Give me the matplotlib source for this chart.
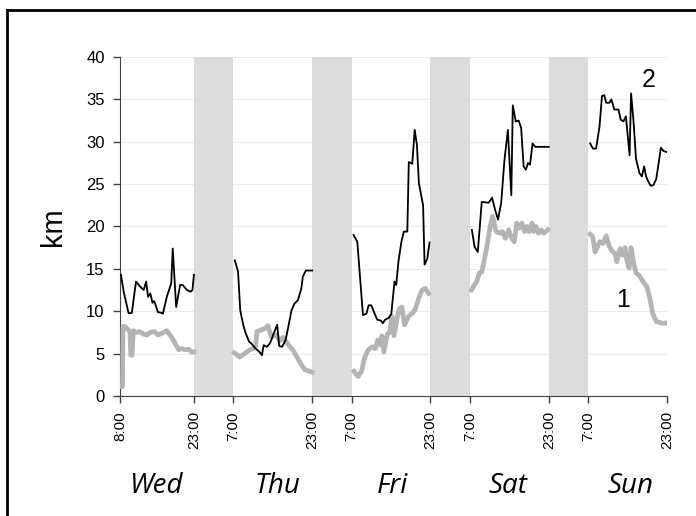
import matplotlib.pyplot as plt
from matplotlib.lines import Line2D
import numpy as np

# hours counted from Wed 0:00; NaN breaks the line at each night
black_t = [8.2, 8.75, 9.75, 10.4, 11.25, 12.1, 12.8, 13.3, 13.7, 14.15, 14.6, 14.95, 15.3, 15.7, 16.5, 16.7,
           17.5, 18.4, 18.7, 19.4, 20.2, 20.7, 21.6, 22.3, 22.7, 23.0, np.nan,
           31.3, 31.95, 32.4, 33.0, 33.5, 34.2, 34.65, 35.5, 36.3, 36.8, 37.15, 37.8, 38.4, 38.7, 39.2, 39.9,
           40.3, 40.9, 41.6, 42.1, 42.8, 43.4, 44.1, 44.8, 45.1, 45.7, 47.0, np.nan,
           55.4, 56.15, 57.3, 58.0, 58.45, 59.0, 59.5, 60.2, 60.9, 61.35, 61.8, 62.5, 63.05, 63.7, 64.05, 64.5,
           65.1, 65.6, 66.3, 66.6, 67.3, 67.8, 68.25, 68.65, 69.5, 69.8, 70.35, 70.8, np.nan,
           79.4, 79.95, 80.6, 81.4, 82.8, 83.5, 84.1, 84.7, 85.35, 86.0, 86.7, 87.4, 87.7, 88.3, 88.9, 89.4,
           89.9, 90.35, 90.8, 91.2, 91.7, 92.25, 95.0, np.nan,
           103.4, 103.95, 104.6, 105.3, 105.8, 106.25, 106.65, 107.3, 107.7, 108.3, 109.15, 109.6, 110.15,
           110.65, 111.4, 111.7, 112.2, 112.7, 113.4, 113.9, 114.35, 114.75, 115.2, 115.7, 116.25, 116.8,
           117.25, 117.75, 118.3, 118.85]
black_km = [14.3, 12.3, 9.75, 9.8, 13.5, 12.9, 12.5, 13.5, 11.7, 12.1, 11.0, 11.2, 10.6, 9.9, 9.8, 9.7,
            11.7, 13.3, 17.4, 10.5, 13.1, 13.1, 12.5, 12.3, 12.5, 14.3, np.nan,
            16.0, 14.7, 10.1, 8.4, 7.4, 6.4, 6.2, 5.6, 5.2, 4.8, 6.0, 5.8, 6.2, 6.6, 7.4, 8.4,
            5.9, 5.8, 6.6, 8.0, 10.1, 10.9, 11.3, 12.7, 14.1, 14.8, 14.8, np.nan,
            19.0, 18.2, 9.55, 9.7, 10.7, 10.7, 9.95, 9.0, 8.9, 8.6, 9.0, 9.2, 9.7, 13.5, 13.1, 15.85,
            18.2, 19.4, 19.4, 27.6, 27.4, 31.4, 29.6, 25.1, 22.5, 15.5, 16.2, 18.1, np.nan,
            19.6, 17.6, 17.0, 22.9, 22.8, 23.4, 22.0, 20.8, 22.8, 27.8, 31.4, 23.7, 34.3, 32.4, 32.5, 31.6,
            27.1, 26.7, 27.5, 27.3, 29.8, 29.4, 29.4, np.nan,
            29.8, 29.2, 29.2, 31.8, 35.4, 35.5, 34.6, 34.6, 35.0, 33.8, 33.8, 32.6, 32.4,
            33.0, 28.4, 35.7, 32.4, 28.0, 26.3, 25.9, 27.1, 25.9, 25.3, 24.8, 24.9, 25.6,
            27.3, 29.3, 28.9, 28.8]

gray_t = [8.15, 8.5, 8.6, 9.0, 9.5, 10.0, 10.2, 10.45, 10.7, 11.3, 12.0, 12.8, 13.5, 14.1, 15.0, 15.7,
          16.5, 17.5, 18.4, 19.2, 19.9, 20.5, 21.2, 22.0, 22.5, 23.0, np.nan,
          31.2, 32.3, 33.3, 34.2, 35.0, 35.5, 35.8, 36.7, 37.55, 38.0, 38.7, 39.7, 40.4, 41.1, 42.1, 43.1,
          44.1, 44.8, 45.5, 46.5, 47.0, np.nan,
          55.5, 56.3, 57.0, 57.6, 58.3, 59.1, 59.8, 60.3, 60.9, 61.15, 61.55, 62.25, 62.7, 63.2, 63.6,
          64.3, 64.7, 65.2, 65.75, 66.55, 67.4, 67.9, 68.6, 69.3, 69.95, 70.6, np.nan,
          79.3, 79.9, 80.4, 80.9, 81.4, 82.45, 83.1, 83.6, 84.3, 85.15, 85.6, 86.2, 86.85, 87.5, 88.0,
          88.5, 89.0, 89.55, 90.1, 90.6, 91.0, 91.6, 91.9, 92.4, 92.9, 93.5, 93.95, 94.8, np.nan,
          103.4, 103.9, 104.4, 104.9, 105.3, 106.0, 106.65, 107.3, 108.0, 108.5, 108.8, 109.5, 110.0,
          110.5, 110.85, 111.3, 111.7, 112.2, 112.7, 113.4, 114.1, 114.9, 115.45, 116.1, 116.8, 117.9,
          118.85]
gray_km = [1.1, 1.1, 8.2, 8.2, 7.9, 7.6, 4.8, 4.8, 7.7, 7.5, 7.6, 7.3, 7.2, 7.5, 7.6, 7.2,
           7.4, 7.7, 7.0, 6.2, 5.45, 5.6, 5.45, 5.5, 5.2, 5.2, np.nan,
           5.1, 4.6, 5.0, 5.4, 5.6, 5.8, 7.6, 7.8, 8.0, 8.3, 7.0, 7.2, 6.5, 6.9, 6.1, 5.4,
           4.4, 3.7, 3.1, 2.9, 2.8, np.nan,
           2.9, 2.3, 2.9, 4.45, 5.4, 5.8, 5.6, 6.6, 6.0, 7.1, 5.2, 7.3, 7.5, 9.4, 7.1,
           9.4, 10.3, 10.5, 8.4, 9.4, 9.8, 10.2, 11.5, 12.5, 12.7, 12.1, np.nan,
           12.5, 13.1, 13.5, 14.5, 14.6, 17.6, 20.0, 21.2, 19.4, 19.2, 19.4, 18.6, 19.6, 18.6, 18.2,
           20.4, 19.8, 20.4, 19.4, 20.0, 19.4, 20.4, 19.4, 20.0, 19.2, 19.6, 19.2, 19.6, np.nan,
           19.1, 18.8, 17.0, 17.6, 18.2, 18.0, 18.9, 17.6, 17.0, 16.8, 15.85, 17.4, 16.6,
           17.5, 16.0, 15.07, 17.5, 15.8, 14.5, 14.2, 13.5, 12.9, 11.7, 9.75, 8.8, 8.6,
           8.6]

nights = [(23, 31), (47, 55), (71, 79), (95, 103)]
tick_pos = [8, 23, 31, 47, 55, 71, 79, 95, 103, 119]
tick_lbl = ["8:00", "23:00", "7:00", "23:00", "7:00", "23:00", "7:00", "23:00", "7:00", "23:00"]
days = ["Wed", "Thu", "Fri", "Sat", "Sun"]
day_pos = [15.5, 40.0, 63.3, 86.7, 111.5]

fig = plt.figure(figsize=(6.96, 5.16), dpi=100)
ax = fig.add_axes([0.1724, 0.2326, 0.7860, 0.6569])

for a, b in nights:
    ax.axvspan(a, b, color="#dcdcdc", lw=0, zorder=1)

ax.plot(gray_t, gray_km, color="#b4b4b4", lw=3.4, solid_joinstyle="round", zorder=3)
ax.plot(black_t, black_km, color="black", lw=1.3, zorder=4)

ax.set_xlim(8, 119)
ax.set_ylim(0, 40)
ax.set_yticks(range(0, 41, 5))
ax.yaxis.grid(True, color="#ebebeb", lw=0.8, zorder=0)
ax.set_axisbelow(True)
ax.set_xticks(tick_pos)
ax.set_xticklabels(tick_lbl, rotation=90, fontsize=11, family="Liberation Sans")
for lbl in ax.get_yticklabels():
    lbl.set_fontsize(12)
    lbl.set_family("Liberation Sans")
ax.tick_params(direction="out", length=5, color="#404040", width=1)
ax.tick_params(axis="y", pad=6)
ax.tick_params(axis="x", pad=6)
for s in ["top", "right"]:
    ax.spines[s].set_visible(False)
for s in ["left", "bottom"]:
    ax.spines[s].set_color("#404040")
ax.set_ylabel("km", fontsize=21, family="Liberation Sans", labelpad=14)

ax.text(115.2, 37.3, "2", fontsize=18, ha="center", va="center", family="Liberation Sans")
ax.text(110.1, 11.3, "1", fontsize=18, ha="center", va="center", family="Liberation Sans")

for d, x in zip(days, day_pos):
    ax.text(x, -0.265, d, transform=ax.get_xaxis_transform(), fontsize=20, style="italic",
            ha="center", va="center", family="Open Sans")

# frame round the figure (top and left edges only are visible)
fig.add_artist(Line2D([0.0101, 1.0], [0.9806, 0.9806], color="black", lw=2))
fig.add_artist(Line2D([0.0101, 0.0101], [0.0, 0.9806], color="black", lw=2))

fig.savefig("out.png", dpi=100)
